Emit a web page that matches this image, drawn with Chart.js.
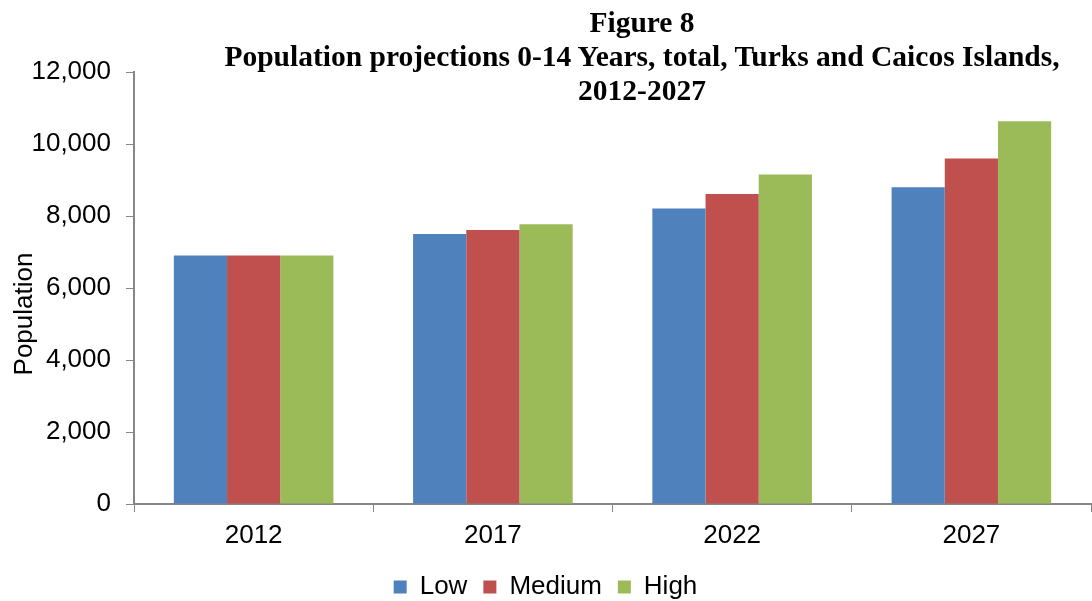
<!DOCTYPE html>
<html>
<head>
<meta charset="utf-8">
<script src="https://cdn.jsdelivr.net/npm/chart.js@4/dist/chart.umd.min.js"></script>
<style>
  html, body { margin: 0; padding: 0; background: #ffffff; }
  #wrap { position: relative; width: 1092px; height: 601px; overflow: hidden; }
  #c { position: absolute; left: 0; top: 0; }
  #title {
    position: absolute; left: 200px; width: 884px; top: 5px;
    text-align: center; font-family: "Liberation Serif", "Times New Roman", serif;
    font-weight: bold; font-size: 29.5px; line-height: 34px; color: #000; white-space: nowrap;
  }
  #ytitle {
    position: absolute; left: -77px; top: 299px; width: 200px; height: 30px;
    line-height: 30px; text-align: center; transform: rotate(-90deg);
    font-family: "Liberation Sans", Arial, sans-serif; font-size: 26px; color: #000;
  }
</style>
</head>
<body>
<div id="wrap">
  <canvas id="c" width="1092" height="601"></canvas>
  <div id="title">Figure 8<br>Population projections 0-14 Years, total, Turks and Caicos Islands,<br>2012-2027</div>
  <div id="ytitle"></div>
</div>
<script>
const categories = ['2012', '2017', '2022', '2027'];
const lowValues = [6900, 7500, 8210, 8800];
const mediumValues = [6900, 7610, 8610, 9600];
const highValues = [6900, 7770, 9150, 10630];
const seriesNames = ['Low', 'Medium', 'High'];
const yTicks = [0, 2000, 4000, 6000, 8000, 10000, 12000];
const axisTitle = 'Population';

document.getElementById('ytitle').textContent = axisTitle;

const FONT = '"Liberation Sans", Arial, sans-serif';
const GRAY = '#868686';

new Chart(document.getElementById('c'), {
  type: 'bar',
  data: {
    labels: categories,
    datasets: [
      { label: seriesNames[0], data: lowValues, backgroundColor: '#4F81BD' },
      { label: seriesNames[1], data: mediumValues, backgroundColor: '#C0504D' },
      { label: seriesNames[2], data: highValues, backgroundColor: '#9BBB59' }
    ]
  },
  options: {
    responsive: false,
    devicePixelRatio: 1,
    animation: false,
    datasets: { bar: { categoryPercentage: 0.667, barPercentage: 1.0, borderWidth: 0 } },
    layout: { padding: { top: 72, right: 1, left: 0, bottom: -9 } },
    plugins: {
      title: { display: false },
      tooltip: { enabled: false },
      legend: {
        position: 'bottom',
        labels: {
          boxWidth: 13, boxHeight: 13, padding: 16,
          color: '#000', font: { family: FONT, size: 26 }
        }
      }
    },
    scales: {
      x: {
        afterFit: (s) => { s.height = 54; },
        grid: { display: true, drawOnChartArea: false, drawTicks: true, tickLength: 8, color: GRAY, offset: true },
        border: { display: true, color: GRAY, width: 2 },
        ticks: { color: '#000', font: { family: FONT, size: 26 }, padding: 8 }
      },
      y: {
        min: 0, max: 12000,
        afterBuildTicks: (s) => { s.ticks = yTicks.map(v => ({ value: v })); },
        afterFit: (s) => { s.width = 134; },
        grid: { display: true, drawOnChartArea: false, drawTicks: true, tickLength: 8, color: GRAY },
        border: { display: true, color: GRAY, width: 2 },
        ticks: {
          color: '#000', font: { family: FONT, size: 26 }, padding: 15,
          callback: (v) => Number(v).toLocaleString('en-US')
        }
      }
    }
  }
});
</script>
</body>
</html>
